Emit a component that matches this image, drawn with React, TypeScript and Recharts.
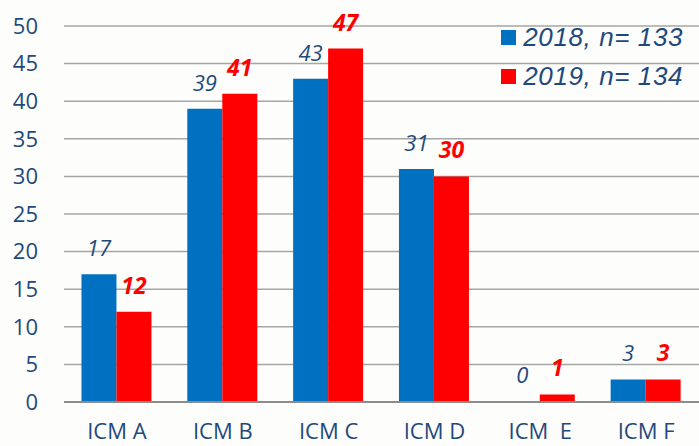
import { BarChart, Bar, XAxis, YAxis, CartesianGrid, Legend, LabelList, Cell } from 'recharts';

const categories = ['ICM A', 'ICM B', 'ICM C', 'ICM D', 'ICM\u00a0 E', 'ICM F'];
const values2018 = [17, 39, 43, 31, 0, 3];
const values2019 = [12, 41, 47, 30, 1, 3];
const yTicks = [0, 5, 10, 15, 20, 25, 30, 35, 40, 45, 50];
const seriesNames = ['2018, n= 133', '2019, n= 134'];

const colors = {
  blue: '#0070c0',
  red: '#ff0000',
  text: '#1f497d',
  grid: '#a6a6a6',
  axis: '#8c8c8c',
};

const data = categories.map((cat, i) => ({
  cat,
  y2018: values2018[i],
  y2019: values2019[i],
}));

const LegendBox = () => (
  <div>
    {seriesNames.map((name, i) => (
      <div key={name} style={{ display: 'flex', alignItems: 'center', height: 39 }}>
        <span
          style={{
            width: 15,
            height: 15,
            background: i === 0 ? colors.blue : colors.red,
            marginRight: 7,
            display: 'inline-block',
          }}
        />
        <span
          style={{
            fontFamily: '"Liberation Sans", Arial, sans-serif',
            fontStyle: 'italic',
            fontSize: 26,
            letterSpacing: 0.6,
            color: colors.text,
            whiteSpace: 'nowrap',
          }}
        >
          {name}
        </span>
      </div>
    ))}
  </div>
);

// value label drawn above the bar, also for zero-height bars
const makeLabel = (fill: string, size: number, bold: boolean) => (props: any) => {
  const { x, y, width, value } = props;
  if (value === undefined || value === null) return null;
  return (
    <text
      x={Number(x) + Number(width) / 2}
      y={Number(y) - 18}
      textAnchor="middle"
      fill={fill}
      fontSize={size}
      fontStyle="italic"
      fontWeight={bold ? 'bold' : 'normal'}
      fontFamily='"Open Sans", sans-serif'
    >
      {value}
    </text>
  );
};

export default function App() {
  const axisFont = { fontSize: 22, fill: colors.text, fontFamily: '"Open Sans", sans-serif' };
  return (
    <div style={{ position: 'absolute', left: 0, top: 0, width: 699, height: 446, background: '#fdfdfb' }}>
      <BarChart
        width={699}
        height={446}
        data={data}
        margin={{ top: 26, right: 0, left: 0, bottom: 0 }}
        barCategoryGap="16.5%"
        barGap={0}
      >
        <CartesianGrid vertical={false} stroke={colors.grid} strokeWidth={1.5} />
        <XAxis
          dataKey="cat"
          height={44}
          tickLine={false}
          tickSize={0}
          tickMargin={21}
          axisLine={{ stroke: colors.axis, strokeWidth: 2 }}
          tick={axisFont}
          interval={0}
        />
        <YAxis
          width={64}
          domain={[0, 50]}
          ticks={yTicks}
          tickLine={false}
          tickSize={0}
          tickMargin={26}
          axisLine={false}
          tick={axisFont}
        />
        <Legend
          layout="horizontal"
          verticalAlign="middle"
          align="center"
          wrapperStyle={{ top: 18, right: 16, left: 'auto', width: 'auto' }}
          content={() => <LegendBox />}
        />
        <Bar
          dataKey="y2018"
          name={seriesNames[0]}
          fill={colors.blue}
          minPointSize={1}
          isAnimationActive={false}
        >
          {values2018.map((v, i) => (
            <Cell key={i} fill={v === 0 ? 'transparent' : colors.blue} />
          ))}
          <LabelList dataKey="y2018" content={makeLabel(colors.text, 22, false)} />
        </Bar>
        <Bar dataKey="y2019" name={seriesNames[1]} fill={colors.red} isAnimationActive={false}>
          <LabelList dataKey="y2019" content={makeLabel(colors.red, 23, true)} />
        </Bar>
      </BarChart>
    </div>
  );
}
